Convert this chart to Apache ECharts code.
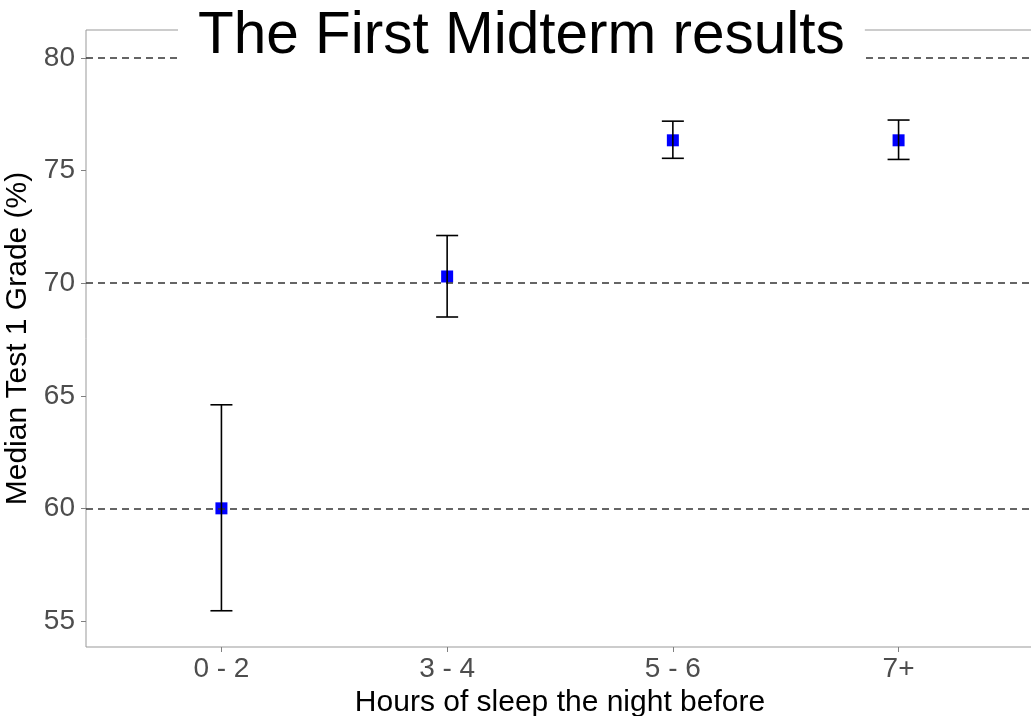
<!DOCTYPE html>
<html>
<head>
<meta charset="utf-8">
<script src="https://cdn.jsdelivr.net/npm/echarts@6/dist/echarts.min.js"></script>
<style>
html,body{margin:0;padding:0;background:#fff;}
#chart{width:1031px;height:716px;}
</style>
</head>
<body>
<div id="chart"></div>
<script>
const categories = ['0 - 2', '3 - 4', '5 - 6', '7+'];
const medians = [60, 70.3, 76.35, 76.35];
const lower = [55.45, 68.5, 75.55, 75.5];
const upper = [64.6, 72.12, 77.2, 77.25];
const yTicks = [55, 60, 65, 70, 75, 80];
const yGrid = [60, 70, 80];

const font = 'Liberation Sans, Arial, sans-serif';
const chart = echarts.init(document.getElementById('chart'), null, {renderer: 'canvas'});

const pointData = categories.map((c, i) => [i + 1, medians[i]]);
const errData = categories.map((c, i) => [i + 1, lower[i], upper[i]]);

chart.setOption({
  animation: false,
  backgroundColor: '#fff',
  title: {
    text: 'The First Midterm results',
    left: 178,
    top: 4,
    padding: [3, 20, 3, 20],
    backgroundColor: '#fff',
    z: 20,
    textStyle: {fontFamily: font, fontSize: 58.5, fontWeight: 'normal', color: '#000'}
  },
  grid: {
    left: 86, top: 30, right: -3, bottom: 69,
    outerBoundsMode: 'none',
    containLabel: false,
    show: true, borderColor: '#999', borderWidth: 1, backgroundColor: 'transparent'
  },
  xAxis: {
    type: 'value', min: 0.4, max: 4.6,
    name: 'Hours of sleep the night before',
    nameLocation: 'middle', nameGap: 33,
    nameTextStyle: {fontFamily: font, fontSize: 30, color: '#000'},
    axisLine: {show: false},
    axisTick: {show: true, length: 5, customValues: [1, 2, 3, 4], lineStyle: {color: '#808080', width: 1}},
    axisLabel: {customValues: [1, 2, 3, 4], margin: 8, fontFamily: font, fontSize: 28, color: '#4d4d4d',
      formatter: v => categories[Math.round(v) - 1]},
    splitLine: {show: false}
  },
  yAxis: {
    type: 'value', min: 53.84, max: 81.25,
    name: 'Median Test 1 Grade (%)',
    nameLocation: 'middle', nameGap: 46,
    nameTextStyle: {fontFamily: font, fontSize: 30, color: '#000'},
    axisLine: {show: false},
    axisTick: {show: true, length: 5, customValues: yTicks, lineStyle: {color: '#808080', width: 1}},
    axisLabel: {customValues: yTicks, margin: 11, fontFamily: font, fontSize: 28, color: '#4d4d4d'},
    splitLine: {show: false}
  },
  series: [
    {
      type: 'scatter',
      data: pointData,
      symbol: 'rect',
      symbolSize: 12,
      itemStyle: {color: '#0000ff', opacity: 1},
      z: 3,
      silent: true,
      markLine: {
        silent: true,
        symbol: ['none', 'none'],
        label: {show: false},
        lineStyle: {type: [7, 5], color: '#333', width: 1.6, opacity: 1},
        data: yGrid.map(v => ({yAxis: v}))
      }
    },
    {
      type: 'custom',
      data: errData,
      z: 5,
      silent: true,
      renderItem: function (params, api) {
        const x = api.value(0);
        const pLo = api.coord([x, api.value(1)]);
        const pHi = api.coord([x, api.value(2)]);
        const hw = 11;
        const st = {stroke: '#000', lineWidth: 1.6};
        return {
          type: 'group',
          children: [
            {type: 'line', shape: {x1: pLo[0], y1: pLo[1], x2: pHi[0], y2: pHi[1]}, style: st},
            {type: 'line', shape: {x1: pLo[0] - hw, y1: pLo[1], x2: pLo[0] + hw, y2: pLo[1]}, style: st},
            {type: 'line', shape: {x1: pHi[0] - hw, y1: pHi[1], x2: pHi[0] + hw, y2: pHi[1]}, style: st}
          ]
        };
      }
    }
  ]
});
</script>
</body>
</html>
